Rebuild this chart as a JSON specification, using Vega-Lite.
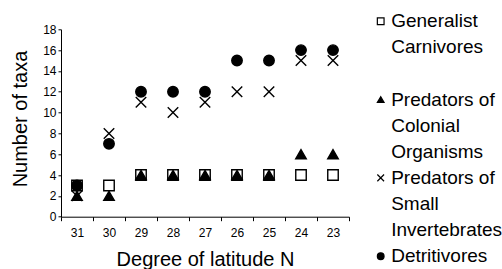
{
  "$schema": "https://vega.github.io/schema/vega-lite/v6.json",
  "width": 288,
  "height": 187.4,
  "autosize": "none",
  "padding": {"left": 61, "top": 29.3, "right": 153, "bottom": 52.3},
  "background": "white",
  "config": {
    "view": {"stroke": null},
    "font": "Liberation Sans"
  },
  "data": {
    "values": [
      {"lat": 31, "series": "Generalist Carnivores", "taxa": 3},
      {"lat": 30, "series": "Generalist Carnivores", "taxa": 3},
      {"lat": 29, "series": "Generalist Carnivores", "taxa": 4},
      {"lat": 28, "series": "Generalist Carnivores", "taxa": 4},
      {"lat": 27, "series": "Generalist Carnivores", "taxa": 4},
      {"lat": 26, "series": "Generalist Carnivores", "taxa": 4},
      {"lat": 25, "series": "Generalist Carnivores", "taxa": 4},
      {"lat": 24, "series": "Generalist Carnivores", "taxa": 4},
      {"lat": 23, "series": "Generalist Carnivores", "taxa": 4},
      {"lat": 31, "series": "Predators of Colonial Organisms", "taxa": 2},
      {"lat": 30, "series": "Predators of Colonial Organisms", "taxa": 2},
      {"lat": 29, "series": "Predators of Colonial Organisms", "taxa": 4},
      {"lat": 28, "series": "Predators of Colonial Organisms", "taxa": 4},
      {"lat": 27, "series": "Predators of Colonial Organisms", "taxa": 4},
      {"lat": 26, "series": "Predators of Colonial Organisms", "taxa": 4},
      {"lat": 25, "series": "Predators of Colonial Organisms", "taxa": 4},
      {"lat": 24, "series": "Predators of Colonial Organisms", "taxa": 6},
      {"lat": 23, "series": "Predators of Colonial Organisms", "taxa": 6},
      {"lat": 31, "series": "Predators of Small Invertebrates", "taxa": 2},
      {"lat": 30, "series": "Predators of Small Invertebrates", "taxa": 8},
      {"lat": 29, "series": "Predators of Small Invertebrates", "taxa": 11},
      {"lat": 28, "series": "Predators of Small Invertebrates", "taxa": 10},
      {"lat": 27, "series": "Predators of Small Invertebrates", "taxa": 11},
      {"lat": 26, "series": "Predators of Small Invertebrates", "taxa": 12},
      {"lat": 25, "series": "Predators of Small Invertebrates", "taxa": 12},
      {"lat": 24, "series": "Predators of Small Invertebrates", "taxa": 15},
      {"lat": 23, "series": "Predators of Small Invertebrates", "taxa": 15},
      {"lat": 31, "series": "Detritivores", "taxa": 3},
      {"lat": 30, "series": "Detritivores", "taxa": 7},
      {"lat": 29, "series": "Detritivores", "taxa": 12},
      {"lat": 28, "series": "Detritivores", "taxa": 12},
      {"lat": 27, "series": "Detritivores", "taxa": 12},
      {"lat": 26, "series": "Detritivores", "taxa": 15},
      {"lat": 25, "series": "Detritivores", "taxa": 15},
      {"lat": 24, "series": "Detritivores", "taxa": 16},
      {"lat": 23, "series": "Detritivores", "taxa": 16}
    ]
  },
  "mark": {"type": "point", "size": 110, "strokeWidth": 1.4, "opacity": 1},
  "encoding": {
    "x": {
      "field": "lat",
      "type": "quantitative",
      "scale": {"domain": [22.5, 31.5], "reverse": true, "nice": false, "zero": false},
      "axis": {
        "values": [31.5, 30.5, 29.5, 28.5, 27.5, 26.5, 25.5, 24.5, 23.5, 22.5],
        "labelExpr": "datum.value > 23 ? format(datum.value - 0.5, 'd') : ''",
        "labelOffset": 16,
        "labelFlush": false,
        "labelOverlap": false,
        "labelFontSize": 12,
        "labelColor": "black",
        "labelPadding": 6.5,
        "tickSize": 4,
        "tickColor": "black",
        "domainColor": "black",
        "grid": false,
        "title": "Degree of latitude N",
        "titleFontSize": 20,
        "titleFontWeight": "normal",
        "titleColor": "black",
        "titleBaseline": "alphabetic",
        "titleY": 48.3
      }
    },
    "y": {
      "field": "taxa",
      "type": "quantitative",
      "scale": {"domain": [0, 18], "nice": false},
      "axis": {
        "values": [0, 2, 4, 6, 8, 10, 12, 14, 16, 18],
        "labelFontSize": 12,
        "labelColor": "black",
        "labelPadding": 2,
        "tickSize": 3,
        "tickColor": "black",
        "domainColor": "black",
        "grid": false,
        "title": "Number of taxa",
        "titleFontSize": 20,
        "titleFontWeight": "normal",
        "titleColor": "black",
        "titleBaseline": "alphabetic",
        "titleAlign": "center",
        "titleAngle": -90,
        "titleX": -34.5,
        "titleY": 89.2
      }
    },
    "shape": {
      "field": "series",
      "type": "nominal",
      "scale": {
        "domain": ["Generalist Carnivores", "Carnivores", " ", "Predators of Colonial Organisms", "Colonial", "Organisms", "Predators of Small Invertebrates", "Small", "Invertebrates", "Detritivores"],
        "range": ["square", "M0,0", "M0,0", "triangle-up", "M0,0", "M0,0", "M-1,-1L1,1M-1,1L1,-1", "M0,0", "M0,0", "circle"]
      },
      "legend": {
        "title": null,
        "orient": "none",
        "legendX": 310.2,
        "legendY": -17.5,
        "padding": 0,
        "symbolSize": 45,
        "symbolStrokeWidth": 1.2,
        "labelFontSize": 19,
        "labelColor": "black",
        "labelOffset": 1,
        "labelLimit": 200,
        "rowPadding": 6.1,
        "labelExpr": "datum.label == 'Generalist Carnivores' ? 'Generalist' : (datum.label == 'Predators of Colonial Organisms' || datum.label == 'Predators of Small Invertebrates') ? 'Predators of' : datum.label"
      }
    },
    "fill": {
      "field": "series",
      "type": "nominal",
      "scale": {
        "domain": ["Generalist Carnivores", "Carnivores", " ", "Predators of Colonial Organisms", "Colonial", "Organisms", "Predators of Small Invertebrates", "Small", "Invertebrates", "Detritivores"],
        "range": ["white", "transparent", "transparent", "black", "transparent", "transparent", "transparent", "transparent", "transparent", "black"]
      }
    },
    "stroke": {
      "field": "series",
      "type": "nominal",
      "scale": {
        "domain": ["Generalist Carnivores", "Carnivores", " ", "Predators of Colonial Organisms", "Colonial", "Organisms", "Predators of Small Invertebrates", "Small", "Invertebrates", "Detritivores"],
        "range": ["black", "transparent", "transparent", "black", "transparent", "transparent", "black", "transparent", "transparent", "black"]
      }
    }
  }
}
